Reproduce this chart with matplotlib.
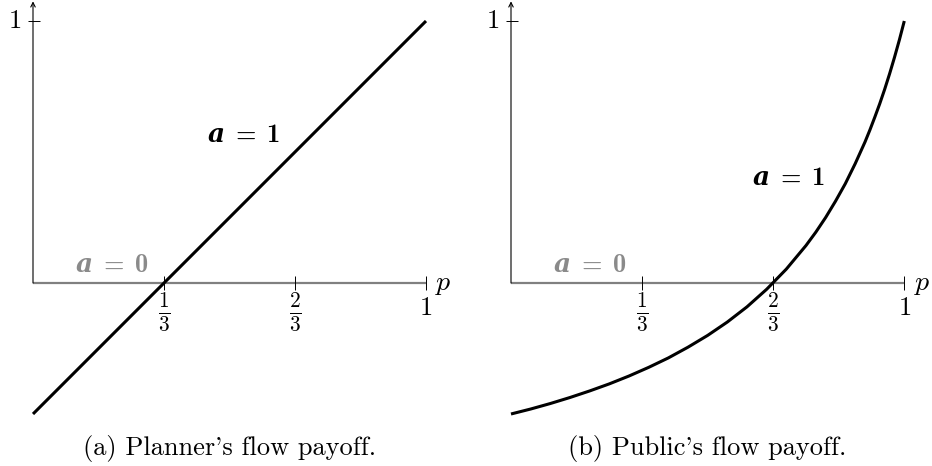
import matplotlib
matplotlib.use("Agg")
import matplotlib.pyplot as plt

plt.rcParams['mathtext.fontset'] = 'custom'
plt.rcParams['mathtext.rm'] = 'cmr10'
plt.rcParams['mathtext.it'] = 'cmmi10'
plt.rcParams['mathtext.bf'] = 'cmb10'
plt.rcParams['mathtext.bfit'] = 'DejaVu Serif:italic:bold'

# ---- data ----
planner_p = [0.0, 1.0]
planner_payoff = [-0.5, 1.0]

public_p = [0.0, 0.05, 0.10, 0.15, 0.20, 0.25, 0.30, 0.35, 0.40, 0.45, 0.50,
            0.55, 0.60, 0.65, 0.70, 0.75, 0.775, 0.80, 0.825, 0.85, 0.875,
            0.90, 0.9125, 0.925, 0.9375, 0.95, 0.9625, 0.975, 0.9875, 1.0]
public_payoff = [-0.500, -0.481, -0.460, -0.437, -0.412, -0.385, -0.355, -0.322,
                 -0.286, -0.245, -0.200, -0.149, -0.091, -0.024, 0.053, 0.143,
                 0.194, 0.250, 0.312, 0.379, 0.455, 0.538, 0.584, 0.633,
                 0.684, 0.739, 0.798, 0.861, 0.928, 1.000]

xtick_pos = [1/3, 2/3, 1.0]
xtick_labels = [r'$\frac{1}{3}$', r'$\frac{2}{3}$', r'$1$']
captions = ["(a) Planner's flow payoff.", "(b) Public's flow payoff."]
a1_label_pos = [(0.536, 0.565), (0.706, 0.40)]

fig = plt.figure(figsize=(9.32, 4.66), dpi=100)
W, H = 932.0, 466.0

panels = [
    dict(ox=33.0, unit_x=393.0, xs=planner_p, ys=planner_payoff, left=0.0),
    dict(ox=511.0, unit_x=393.3, xs=public_p, ys=public_payoff, left=466.0),
]
oy, unit_y = 283.0, 262.0

for i, pn in enumerate(panels):
    ax = fig.add_axes([pn['left'] / W, 0, 466 / W, 1])
    ax.set_axis_off()
    x0 = (pn['left'] - pn['ox']) / pn['unit_x']
    x1 = (pn['left'] + 466 - pn['ox']) / pn['unit_x']
    ax.set_xlim(x0, x1)
    ax.set_ylim((oy - 466) / unit_y, oy / unit_y)

    # gray x-axis (a = 0 payoff)
    ax.plot([0, 1], [0, 0], color='#808080', lw=1.6, solid_capstyle='butt', zorder=2)
    # y-axis with arrow
    ax.annotate('', xy=(0, 1.075), xytext=(0, 0),
                arrowprops=dict(arrowstyle='->', lw=0.8, color='black',
                                shrinkA=0, shrinkB=0, mutation_scale=8), zorder=3)
    # ticks
    ax.vlines(xtick_pos, -0.027, 0.027, color='black', lw=0.7, zorder=3)
    ax.hlines([1.0], -0.013, 0.018, color='black', lw=0.7, zorder=3)
    for xp, lab in zip(xtick_pos, xtick_labels):
        if lab == r'$1$':
            ax.text(xp, -0.094, lab, ha='center', va='center', fontsize=19)
        else:
            ax.text(xp, -0.11, lab, ha='center', va='center', fontsize=22)
    ax.text(-0.046, 1.0, r'$1$', ha='center', va='center', fontsize=19)
    ax.text(1.045, 0.0, r'$p$', ha='center', va='center', fontsize=20)

    # payoff curve for a = 1
    ax.plot(pn['xs'], pn['ys'], color='black', lw=2.2, zorder=4,
            solid_capstyle='butt')

    ax.text(0.2, 0.07, r'$\mathbfit{a}\;\mathbf{=}\;\mathbf{0}$', color='#8a8a8a',
            ha='center', va='center', fontsize=19)
    lx, ly = a1_label_pos[i]
    ax.text(lx, ly, r'$\mathbfit{a}\;\mathbf{=}\;\mathbf{1}$', color='black',
            ha='center', va='center', fontsize=19)

    ax.text(0.5, -0.63, captions[i], ha='center', va='center', fontsize=19,
            family=['cmr10', 'DejaVu Serif'])

fig.savefig('out.png', dpi=100)
